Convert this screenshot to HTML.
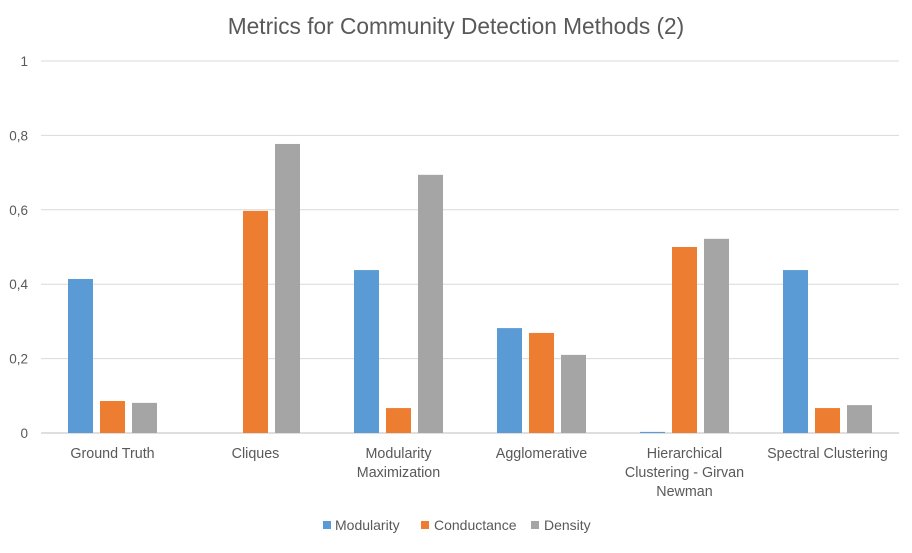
<!DOCTYPE html>
<html><head><meta charset="utf-8"><style>
body{margin:0;background:#fff;font-family:"Liberation Sans",sans-serif}
</style></head><body>
<svg id="chart" width="912" height="548" xmlns="http://www.w3.org/2000/svg">
<text x="456" y="34" text-anchor="middle" font-size="22.7" fill="#595959">Metrics for Community Detection Methods (2)</text>
<g id="grid"></g><g id="bars"></g><g id="xl"></g>
<g>
<rect x="323" y="521" width="8" height="8" fill="#5b9bd5"/>
<text x="335" y="530" font-size="14" fill="#595959">Modularity</text>
<rect x="421" y="521" width="8" height="8" fill="#ed7d31"/>
<text x="434" y="530" font-size="14" fill="#595959">Conductance</text>
<rect x="531" y="521" width="8" height="8" fill="#a5a5a5"/>
<text x="544" y="530" font-size="14" fill="#595959">Density</text>
</g>
</svg>
<script>
const categories=[["Ground Truth"],["Cliques"],["Modularity","Maximization"],["Agglomerative"],["Hierarchical","Clustering - Girvan","Newman"],["Spectral Clustering"]];
const modularity=[0.414,0,0.438,0.282,0.003,0.438];
const conductance=[0.086,0.597,0.067,0.269,0.5,0.067];
const density=[0.081,0.777,0.694,0.21,0.522,0.075];
const ticks=[0,0.2,0.4,0.6,0.8,1];
const tickLabels=["0","0,2","0,4","0,6","0,8","1"];
const NS="http://www.w3.org/2000/svg";
const x0=41,x1=899,yb=433,yt=61;
const y=v=>yb-(yb-yt)*v;
const band=(x1-x0)/categories.length;
const cx=i=>x0+band*(i+0.5);
function mk(t,a,p){const e=document.createElementNS(NS,t);for(const k in a)e.setAttribute(k,a[k]);p.appendChild(e);return e;}
const g=document.getElementById('grid');
ticks.forEach((t,i)=>{
 const l=mk('line',{x1:x0,x2:x1,y1:y(t),y2:y(t),stroke:i?'#d9d9d9':'#bfbfbf','stroke-width':1},g);
 
 
 const tx=mk('text',{x:28,y:y(t)+5,'text-anchor':'end','font-size':13.5,fill:'#595959'},g);
 tx.textContent=tickLabels[i];
 
 
});
const b=document.getElementById('bars');
const series=[[modularity,'#5b9bd5','modularity'],[conductance,'#ed7d31','conductance'],[density,'#a5a5a5','density']];
const bw=25,gap=7;
categories.forEach((c,i)=>{
 series.forEach((s,j)=>{
  const v=s[0][i];
  const r=mk('rect',{x:cx(i)+(j-1)*(bw+gap)-bw/2,y:y(v),width:bw,height:yb-y(v),fill:s[1]},b);
  
  
 });
 const t=mk('text',{x:cx(i),y:458,'text-anchor':'middle','font-size':14.3,fill:'#595959'},document.getElementById('xl'));
 
 
 c.forEach((ln,k)=>{const s=mk('tspan',{x:cx(i),dy:k?19:0},t);s.textContent=ln;});
});
</script>
</body></html>
